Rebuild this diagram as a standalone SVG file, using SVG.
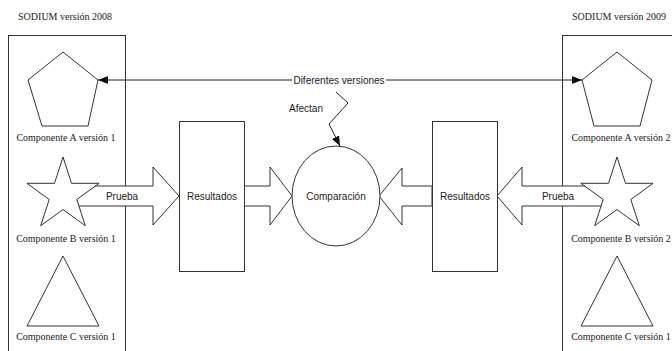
<svg xmlns="http://www.w3.org/2000/svg" width="672" height="351" viewBox="0 0 672 351">
<style>
.shape{fill:#fff;stroke:#333;stroke-width:1}
.serif{font-family:"Liberation Serif","Times New Roman",serif;font-size:10px;fill:#222}
.sans{font-family:"Liberation Sans",Arial,sans-serif;font-size:10px;fill:#222}
.line{fill:none;stroke:#222;stroke-width:1}
</style>
<defs>
<marker id="ah" viewBox="0 0 10 8" refX="10" refY="4" markerWidth="10" markerHeight="8" markerUnits="userSpaceOnUse" orient="auto-start-reverse">
<path d="M0,0 L10,4 L0,8 Z" fill="#111"/>
</marker>
</defs>
<rect width="672" height="351" fill="#fff"/>

<g id="sodium2008">
<text class="serif" x="65" y="20" text-anchor="middle">SODIUM versión 2008</text>
<rect class="shape" x="8.5" y="35.5" width="117" height="330"/>
</g>
<g id="sodium2009">
<text class="serif" x="619" y="20" text-anchor="middle">SODIUM versión 2009</text>
<rect class="shape" x="562.5" y="35.5" width="130" height="330"/>
</g>

<g id="connectors">
<g id="prueba1">
<path class="shape" d="M63,186 H153 V167 L179,196 L153,225 V206 H63 Z"/>
<text class="sans" x="122" y="199.5" text-anchor="middle">Prueba</text>
</g>
<g id="prueba2">
<path class="shape" d="M617,186 H522 V167 L497,196 L522,225 V206 H617 Z"/>
<text class="sans" x="558" y="199.5" text-anchor="middle">Prueba</text>
</g>
<path id="res1-comp" class="shape" d="M244,186 H270 V167 L292,196 L270,225 V206 H244 Z"/>
<path id="res2-comp" class="shape" d="M432,186 H402 V168 L379,196 L402,225 V206 H432 Z"/>
<g id="diferentes">
<path class="line" d="M98,80 H582" marker-start="url(#ah)" marker-end="url(#ah)"/>
<rect x="292" y="73" width="94" height="14" fill="#fff"/>
<text class="sans" x="339" y="83.5" text-anchor="middle">Diferentes versiones</text>
</g>
<g id="afectan">
<path class="line" d="M336,92 L348,103 L329,124 L340,146" marker-end="url(#ah)"/>
<text class="sans" x="306" y="111.5" text-anchor="middle">Afectan</text>
</g>
</g>

<g id="compA1">
<polygon class="shape" points="63,52 98,80 88,126 42,126 28,80"/>
<text class="serif" x="66" y="141" text-anchor="middle">Componente A versión 1</text>
</g>
<g id="compB1">
<polygon class="shape" points="63,157 71.5,183.3 99.1,183.3 76.8,199.5 85.3,225.7 63,209.5 40.7,225.7 49.2,199.5 26.9,183.3 54.5,183.3"/>
<text class="serif" x="66" y="242" text-anchor="middle">Componente B versión 1</text>
</g>
<g id="compC1">
<polygon class="shape" points="63,256 99,326 27,326"/>
<text class="serif" x="66" y="340" text-anchor="middle">Componente C versión 1</text>
</g>

<g id="compA2">
<polygon class="shape" points="617,52 652,80 640,126 594,126 582,80"/>
<text class="serif" x="621" y="141" text-anchor="middle">Componente A versión 2</text>
</g>
<g id="compB2">
<polygon class="shape" points="617,157 625.5,183.3 653.1,183.3 630.8,199.5 639.3,225.7 617,209.5 594.7,225.7 603.2,199.5 580.9,183.3 608.5,183.3"/>
<text class="serif" x="621" y="242" text-anchor="middle">Componente B versión 2</text>
</g>
<g id="compC2">
<polygon class="shape" points="617,256 653,326 581,326"/>
<text class="serif" x="621" y="340" text-anchor="middle">Componente C versión 1</text>
</g>

<g id="resultados1">
<rect class="shape" x="179.5" y="121.5" width="65" height="150"/>
<text class="sans" x="212" y="199.5" text-anchor="middle">Resultados</text>
</g>
<g id="resultados2">
<rect class="shape" x="432.5" y="121.5" width="65" height="150"/>
<text class="sans" x="465" y="199.5" text-anchor="middle">Resultados</text>
</g>
<g id="comparacion">
<ellipse class="shape" cx="336" cy="196" rx="44" ry="50"/>
<text class="sans" x="336" y="199.5" text-anchor="middle">Comparación</text>
</g>
</svg>
